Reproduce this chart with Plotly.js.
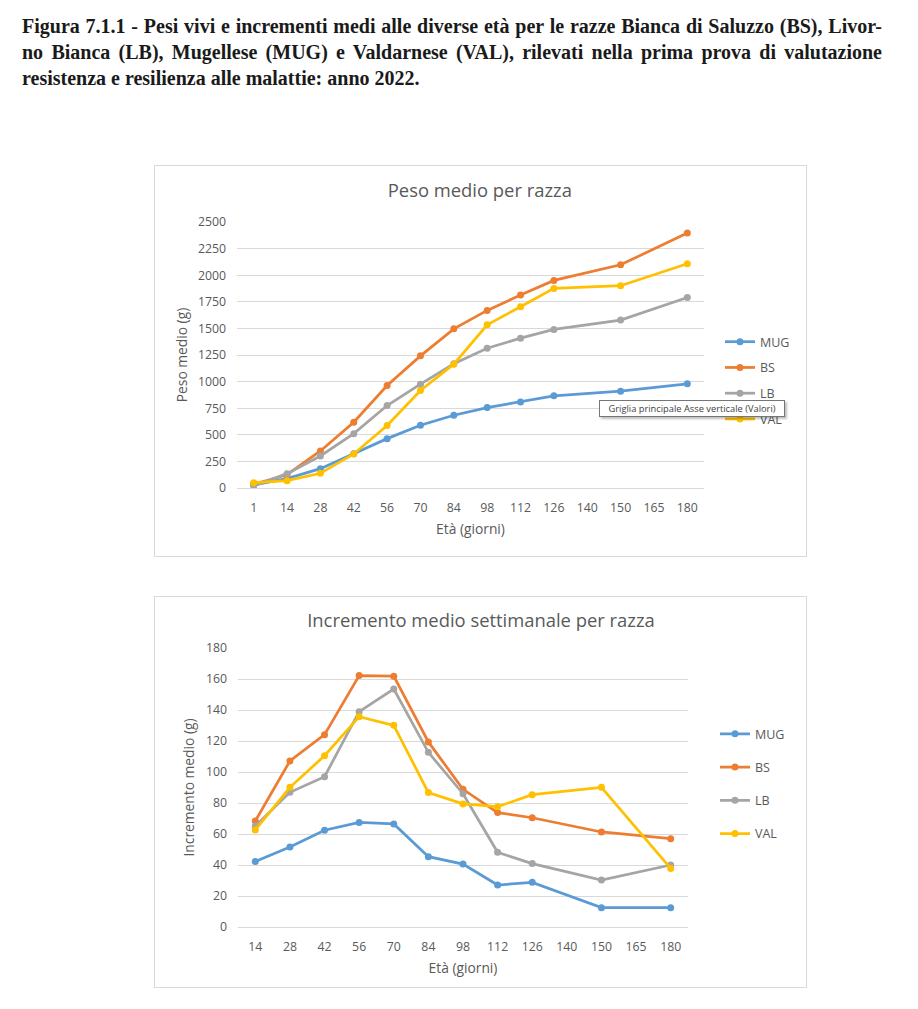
<!DOCTYPE html>
<html>
<head>
<meta charset="utf-8">
<script src="https://cdn.plot.ly/plotly-3.0.1.min.js"></script>
<style>
  html, body { margin: 0; padding: 0; background: #ffffff; }
  body { width: 918px; height: 1009px; position: relative; overflow: hidden; }
  #caption {
    position: absolute; left: 22px; top: 13px; width: 860px;
    font-family: "Liberation Serif", "DejaVu Serif", serif; font-weight: bold;
    font-size: 20px; line-height: 26px; color: #1a1a1a;
  }
  #caption .j { text-align: justify; text-align-last: justify; white-space: nowrap; }
  #caption .l { text-align: left; white-space: nowrap; }
  .box { position: absolute; border: 1px solid #d9d9d9; background: #fff; }
  #box1 { left: 154px; top: 165px; width: 651px; height: 390px; }
  #box2 { left: 154px; top: 596px; width: 651px; height: 390px; }
  #tip {
    position: absolute; left: 599px; top: 400px; width: 184px; height: 15px;
    border: 1px solid #767676; background: #fff;
    box-shadow: 2px 2px 2px rgba(0,0,0,0.25);
    font-family: "Open Sans", "Noto Sans", sans-serif; font-size: 9.3px; line-height: 15px;
    color: #404040; text-align: center; white-space: nowrap;
  }
</style>
</head>
<body>
<div id="caption">
  <div class="j">Figura 7.1.1 - Pesi vivi e incrementi medi alle diverse età per le razze Bianca di Saluzzo (BS), Livor-</div>
  <div class="j">no Bianca (LB), Mugellese (MUG) e Valdarnese (VAL), rilevati nella prima prova di valutazione</div>
  <div class="l">resistenza e resilienza alle malattie: anno 2022.</div>
</div>
<div id="box1" class="box"><div id="chart1"></div></div>
<div id="box2" class="box"><div id="chart2"></div></div>
<div id="tip">Griglia principale Asse verticale (Valori)</div>
<script>
// ---- Data ----
const seriesNames = ["MUG", "BS", "LB", "VAL"];
const seriesColors = ["#5B9BD5", "#ED7D31", "#A5A5A5", "#FFC000"];

// Chart 1: Peso medio per razza
const weightAxisLabels = ["1","14","28","42","56","70","84","98","112","126","140","150","165","180"];
const weightDays = ["1","14","28","42","56","70","84","98","112","126","150","180"];
const weightMUG = [30, 88, 182, 323, 464, 590, 684, 756, 809, 866, 910, 979];
const weightBS  = [35, 125, 348, 618, 963, 1242, 1496, 1669, 1813, 1951, 2098, 2396];
const weightLB  = [20, 135, 301, 511, 775, 976, 1167, 1314, 1408, 1490, 1578, 1791];
const weightVAL = [50, 69, 138, 320, 587, 916, 1164, 1534, 1703, 1876, 1901, 2108];

// Chart 2: Incremento medio settimanale per razza
const gainAxisLabels = ["14","28","42","56","70","84","98","112","126","140","150","165","180"];
const gainDays = ["14","28","42","56","70","84","98","112","126","150","180"];
const gainMUG = [42.2, 51.6, 62.4, 67.5, 66.5, 45.4, 40.6, 27.1, 28.8, 12.5, 12.5];
const gainBS  = [68.4, 107.1, 124.1, 162.2, 161.8, 119.4, 88.8, 73.8, 70.5, 61.3, 57.0];
const gainLB  = [65.2, 86.9, 97.0, 138.9, 153.5, 112.7, 86.0, 48.2, 40.9, 30.3, 40.0];
const gainVAL = [62.6, 90.1, 110.5, 135.7, 130.1, 86.7, 79.4, 77.6, 85.4, 90.1, 37.8];

const FONT = '"Open Sans", "Noto Sans", sans-serif';
const GREY = '#595959';

function makeTraces(x, ys) {
  return ys.map((y, i) => ({
    type: 'scatter', mode: 'lines+markers',
    name: seriesNames[i], x: x, y: y,
    legendgroup: 'g' + i,
    line: { color: seriesColors[i], width: 2.75 },
    marker: { color: seriesColors[i], size: 7 },
    hoverinfo: 'skip'
  }));
}

function baseLayout(opts) {
  return {
    width: 651, height: 390,
    margin: opts.margin,
    paper_bgcolor: '#ffffff', plot_bgcolor: '#ffffff',
    font: { family: FONT, color: GREY, size: 12.3 },
    showlegend: true,
    title: { text: opts.title, font: { family: FONT, size: 18.4, color: GREY },
             x: opts.titleX, xref: 'paper', xanchor: 'center',
             y: opts.titleY, yref: 'container', yanchor: 'middle' },
    xaxis: {
      type: 'category', categoryorder: 'array', categoryarray: opts.cats,
      tickmode: 'array', tickvals: opts.cats, ticktext: opts.cats,
      range: [-0.5, opts.cats.length - 0.5],
      showgrid: false, zeroline: false, showline: true, linecolor: '#d9d9d9', linewidth: 1,
      ticks: '', ticklabelstandoff: opts.xStand,
      tickfont: { family: FONT, size: 12.3, color: GREY },
      title: { text: 'Età (giorni)', font: { family: FONT, size: 13.8, color: GREY }, standoff: opts.xTitleStand },
      fixedrange: true
    },
    yaxis: {
      range: opts.yRange, dtick: opts.dtick, tick0: 0,
      showgrid: true, gridcolor: '#d9d9d9', gridwidth: 1, zeroline: false, showline: false,
      ticks: '', ticklabelstandoff: 10,
      tickfont: { family: FONT, size: 12.3, color: GREY },
      title: { text: opts.yTitle, font: { family: FONT, size: 13.8, color: GREY }, standoff: opts.yTitleStand },
      fixedrange: true
    },
    legend: {
      x: opts.legX, y: opts.legY, xanchor: 'left', yanchor: 'top',
      traceorder: 'grouped', tracegroupgap: opts.legGap,
      font: { family: FONT, size: 12.5, color: GREY },
      bgcolor: 'rgba(0,0,0,0)', borderwidth: 0
    }
  };
}

const cfg = { displayModeBar: false, staticPlot: true };

Plotly.newPlot('chart1',
  makeTraces(weightDays, [weightMUG, weightBS, weightLB, weightVAL]),
  baseLayout({
    title: 'Peso medio per razza', titleX: 0.52, titleY: 1 - 25 / 390,
    margin: { l: 82, r: 101, t: 56, b: 68 },
    cats: weightAxisLabels, yRange: [0, 2500], dtick: 250,
    yTitle: 'Peso medio (g)', yTitleStand: 7, xStand: 8, xTitleStand: 9,
    legX: 1.032, legY: 0.605, legGap: 6.5
  }), cfg);

Plotly.newPlot('chart2',
  makeTraces(gainDays, [gainMUG, gainBS, gainLB, gainVAL]),
  baseLayout({
    title: 'Incremento medio settimanale per razza', titleX: 0.54, titleY: 1 - 24 / 390,
    margin: { l: 83, r: 118, t: 51, b: 60 },
    cats: gainAxisLabels, yRange: [0, 180], dtick: 20,
    yTitle: 'Incremento medio (g)', yTitleStand: 8, xStand: 8, xTitleStand: 9,
    legX: 1.06, legY: 0.745, legGap: 14
  }), cfg);
</script>
</body>
</html>
